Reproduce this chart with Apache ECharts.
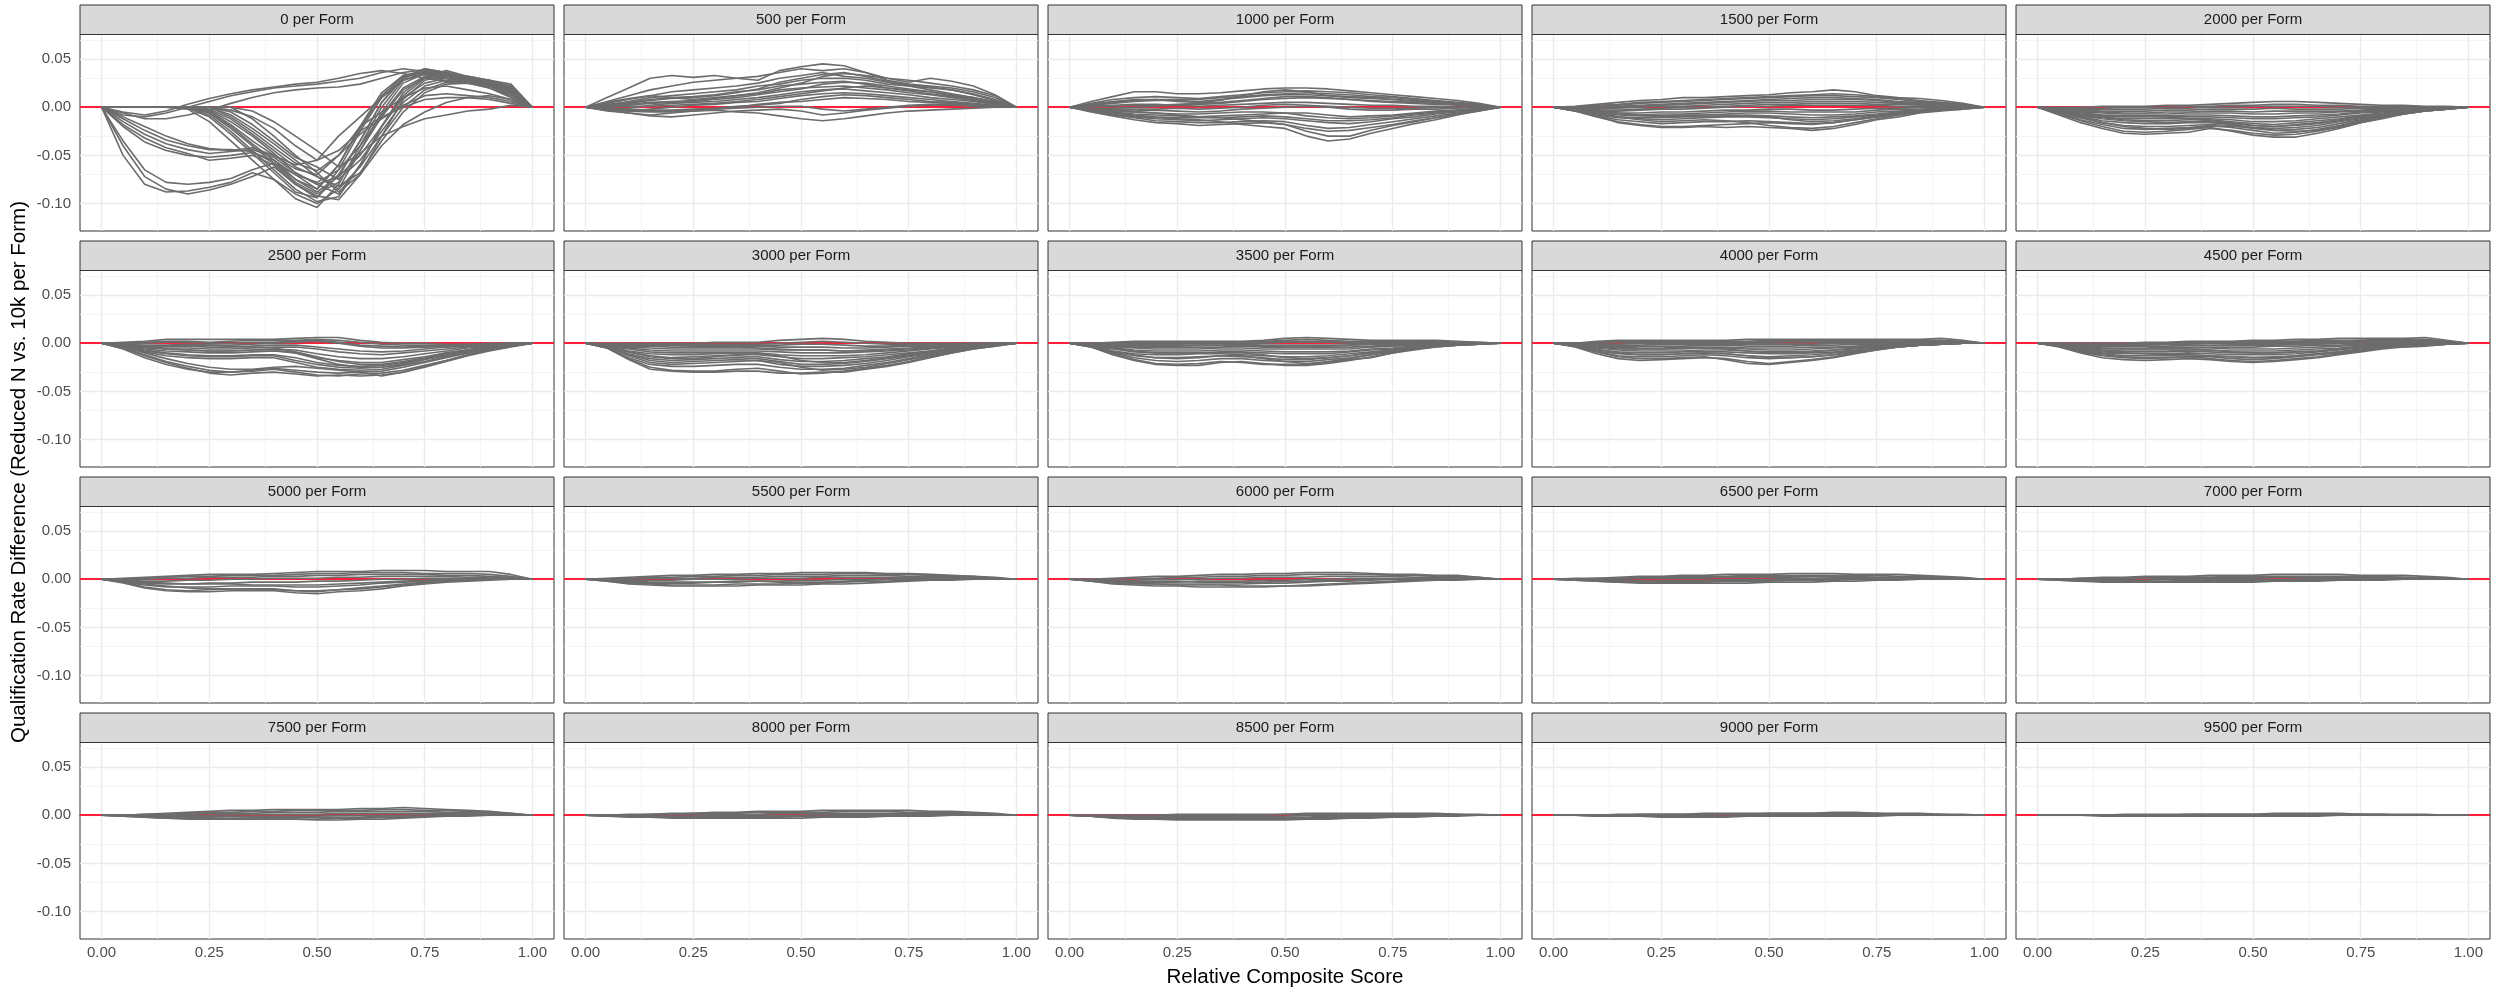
<!DOCTYPE html>
<html>
<head>
<meta charset="utf-8">
<title>Qualification Rate Difference by Sample Size per Form</title>
<script src="https://cdn.jsdelivr.net/npm/echarts@6/dist/echarts.min.js"></script>
<style>
  html, body { margin: 0; padding: 0; background: #ffffff; }
  #chart { width: 2498px; height: 988px; }
</style>
</head>
<body>
<div id="chart"></div>
<script>
// Relative composite score positions shared by every replicate curve
const scoreGrid = [0, 0.05, 0.1, 0.15, 0.2, 0.25, 0.3, 0.35, 0.4, 0.45, 0.5, 0.55, 0.6, 0.65, 0.7, 0.75, 0.8, 0.85, 0.9, 0.95, 1];

// Reduced sample size per form, one facet each
const formSizes = [0, 500, 1000, 1500, 2000, 2500, 3000, 3500, 4000, 4500,
                   5000, 5500, 6000, 6500, 7000, 7500, 8000, 8500, 9000, 9500];

const xTickValues = [0, 0.25, 0.5, 0.75, 1];
const xMinorValues = [0.125, 0.375, 0.625, 0.875];
const yTickValues = [-0.10, -0.05, 0, 0.05];
const yMinorValues = [-0.125, -0.075, -0.025, 0.025, 0.075];

// Qualification rate difference (reduced N vs. 10k per form), one row per replicate
const diff0 = [
  [0,-.050,-.080,-.088,-.087,-.083,-.078,-.068,-.075,-.090,-.100,-.085,-.045,-.005,.025,.035,.030,.028,.024,.015,0],
  [0,-.040,-.072,-.085,-.090,-.086,-.080,-.072,-.062,-.080,-.092,-.096,-.070,-.030,.008,.028,.033,.030,.026,.020,0],
  [0,-.035,-.065,-.078,-.080,-.078,-.074,-.065,-.058,-.070,-.085,-.060,-.020,.015,.033,.038,.034,.029,.022,.012,0],
  [0,-.020,-.036,-.045,-.050,-.052,-.050,-.047,-.055,-.075,-.088,-.072,-.035,.005,.030,.040,.036,.030,.027,.018,0],
  [0,-.015,-.028,-.038,-.044,-.048,-.046,-.044,-.052,-.068,-.080,-.090,-.060,-.020,.015,.032,.038,.032,.028,.022,0],
  [0,-.018,-.032,-.042,-.048,-.055,-.053,-.050,-.060,-.080,-.094,-.065,-.025,.010,.028,.034,.030,.026,.020,.012,0],
  [0,-.010,-.020,-.030,-.038,-.043,-.045,-.042,-.050,-.064,-.070,-.050,-.020,-.005,.010,.020,.022,.018,.014,.008,0],
  [0,-.012,-.024,-.034,-.040,-.044,-.044,-.046,-.058,-.078,-.090,-.078,-.045,-.010,.018,.030,.030,.026,.022,.016,0],
  [0,-.008,-.010,-.006,.000,.006,.012,.016,.020,.022,.024,.027,.030,.036,.040,.037,.033,.030,.028,.020,0],
  [0,-.005,-.008,-.004,.003,.009,.014,.018,.021,.024,.026,.030,.035,.038,.035,.030,.027,.025,.022,.014,0],
  [0,-.006,-.012,-.012,-.008,-.003,.004,.010,.015,.018,.020,.021,.024,.030,.036,.039,.035,.028,.024,.016,0],
  [0,0,0,0,-.002,-.015,-.035,-.055,-.075,-.095,-.104,-.080,-.040,.000,.028,.036,.033,.028,.022,.014,0],
  [0,0,0,0,0,-.006,-.022,-.040,-.058,-.075,-.085,-.060,-.022,.012,.032,.036,.030,.025,.020,.010,0],
  [0,0,0,0,0,0,-.010,-.025,-.042,-.058,-.066,-.050,-.028,-.012,.002,.012,.014,.012,.010,.006,0],
  [0,0,0,0,0,0,0,-.012,-.030,-.050,-.068,-.088,-.070,-.040,-.018,-.005,.005,.010,.012,.008,0],
  [0,0,0,0,0,-.004,-.018,-.035,-.050,-.060,-.055,-.030,-.010,.010,.030,.038,.035,.032,.028,.024,0],
  [0,0,0,0,0,0,0,-.004,-.015,-.030,-.045,-.062,-.048,-.030,-.020,-.012,-.008,-.004,-.002,.002,0],
  [0,0,0,0,0,-.008,-.025,-.045,-.065,-.085,-.098,-.093,-.060,-.020,.010,.025,.030,.028,.026,.022,0],
  [0,0,0,0,0,-.003,-.015,-.030,-.048,-.068,-.080,-.072,-.050,-.020,.012,.030,.034,.030,.025,.018,0],
  [0,0,0,0,-.001,-.010,-.028,-.048,-.068,-.088,-.094,-.070,-.035,.005,.030,.040,.036,.031,.027,.020,0],
  [0,0,0,0,0,0,-.005,-.018,-.035,-.052,-.062,-.075,-.055,-.025,.005,.022,.028,.026,.022,.016,0],
  [0,0,0,0,0,-.002,-.012,-.028,-.045,-.062,-.072,-.082,-.068,-.035,-.005,.015,.024,.025,.022,.015,0],
  [0,0,0,0,0,0,-.003,-.010,-.022,-.040,-.055,-.045,-.025,-.010,.000,.008,.010,.010,.008,.004,0],
  [0,0,0,0,0,-.005,-.020,-.038,-.055,-.070,-.078,-.065,-.040,-.008,.020,.032,.032,.028,.024,.018,0],
  [0,0,0,0,0,0,-.008,-.022,-.038,-.055,-.072,-.085,-.062,-.030,.000,.018,.026,.026,.024,.018,0]
];
const diff500 = [
  [0,.010,.020,.030,.033,.031,.033,.030,.028,.038,.042,.045,.043,.036,.030,.026,.030,.027,.022,.013,0],
  [0,.006,.012,.018,.022,.026,.028,.030,.032,.036,.040,.038,.040,.036,.028,.024,.022,.020,.016,.010,0],
  [0,.004,.008,.012,.016,.018,.020,.022,.025,.030,.033,.036,.032,.030,.026,.022,.020,.018,.014,.008,0],
  [0,.002,.006,.010,.012,.014,.016,.018,.022,.024,.028,.030,.030,.028,.024,.022,.018,.014,.010,.006,0],
  [0,.003,.005,.008,.010,.011,.013,.016,.018,.022,.024,.026,.027,.024,.020,.018,.016,.012,.009,.005,0],
  [0,.001,.003,.005,.006,.007,.009,.012,.014,.018,.020,.021,.022,.020,.018,.015,.013,.010,.007,.004,0],
  [0,-.002,-.001,.002,.004,.005,.006,.008,.010,.013,.016,.018,.019,.017,.015,.013,.010,.008,.006,.003,0],
  [0,-.003,-.004,-.002,.000,.002,.003,.005,.006,.009,.012,.014,.015,.014,.012,.010,.008,.006,.004,.002,0],
  [0,-.004,-.006,-.008,-.006,-.004,-.002,.000,.003,.005,.006,.008,.010,.009,.008,.006,.005,.004,.002,.001,0],
  [0,-.003,-.006,-.009,-.010,-.008,-.006,-.004,-.003,-.002,-.004,-.008,-.006,-.003,-.001,.001,.002,.002,.001,.000,0],
  [0,-.002,-.004,-.005,-.005,-.004,-.003,-.005,-.006,-.009,-.012,-.014,-.012,-.009,-.006,-.004,-.003,-.002,-.001,.000,0],
  [0,.005,.009,.012,.010,.008,.010,.012,.015,.020,.025,.032,.035,.033,.030,.028,.025,.022,.018,.012,0],
  [0,.002,.004,.007,.009,.010,.012,.015,.019,.026,.030,.034,.036,.032,.027,.023,.021,.018,.013,.007,0],
  [0,.001,.002,.004,.005,.006,.008,.010,.013,.016,.019,.024,.026,.025,.022,.019,.016,.013,.010,.005,0],
  [0,.000,.001,.001,.002,.003,.004,.006,.008,.011,.014,.017,.020,.022,.020,.017,.014,.011,.008,.004,0],
  [0,-.001,-.002,-.003,-.003,-.002,-.001,.001,.002,.004,.008,.011,.013,.012,.010,.008,.006,.005,.003,.001,0],
  [0,-.002,-.003,-.004,-.004,-.003,-.002,-.001,.000,.001,.001,-.002,-.004,-.002,.000,.002,.003,.003,.002,.001,0]
];
const diff1000 = [
  [0,.006,.011,.016,.016,.014,.014,.015,.017,.019,.020,.020,.019,.017,.015,.013,.011,.009,.007,.004,0],
  [0,.004,.008,.010,.011,.010,.009,.011,.013,.015,.016,.017,.016,.015,.013,.011,.009,.007,.005,.003,0],
  [0,.002,.004,.006,.007,.007,.006,.008,.010,.012,.013,.013,.012,.011,.010,.008,.006,.005,.003,.002,0],
  [0,.001,.002,.003,.003,.002,.003,.004,.006,.008,.009,.010,.009,.008,.006,.005,.004,.003,.002,.001,0],
  [0,-.001,-.001,.000,.001,.002,.001,.002,.003,.004,.005,.005,.004,.003,.002,.002,.001,.001,.000,.000,0],
  [0,-.002,-.003,-.004,-.003,-.004,-.005,-.004,-.002,-.001,.000,.001,.000,-.002,-.003,-.003,-.002,-.002,-.001,.000,0],
  [0,-.003,-.005,-.007,-.008,-.009,-.010,-.009,-.008,-.007,-.006,-.006,-.008,-.010,-.009,-.008,-.006,-.004,-.003,-.001,0],
  [0,-.004,-.007,-.010,-.012,-.013,-.014,-.013,-.012,-.011,-.012,-.014,-.016,-.017,-.015,-.012,-.010,-.007,-.005,-.002,0],
  [0,-.005,-.009,-.013,-.016,-.017,-.019,-.018,-.017,-.016,-.018,-.022,-.025,-.024,-.021,-.018,-.014,-.011,-.007,-.004,0],
  [0,-.003,-.006,-.009,-.011,-.012,-.013,-.015,-.018,-.020,-.022,-.030,-.035,-.033,-.027,-.022,-.017,-.013,-.008,-.004,0],
  [0,-.002,-.004,-.005,-.006,-.008,-.010,-.011,-.013,-.015,-.018,-.025,-.030,-.030,-.024,-.019,-.015,-.011,-.007,-.003,0],
  [0,.003,.006,.008,.008,.006,.005,.007,.012,.016,.018,.016,.012,.010,.009,.008,.007,.005,.004,.002,0],
  [0,.003,.005,.007,.008,.008,.008,.010,.011,.013,.014,.015,.014,.013,.011,.010,.008,.006,.004,.002,0],
  [0,.001,.001,.002,.002,.003,.004,.005,.007,.009,.011,.011,.010,.008,.007,.006,.005,.004,.003,.001,0],
  [0,-.001,-.002,-.002,-.002,-.001,-.002,-.001,.000,.002,.003,.002,.001,.000,-.001,-.001,-.001,.000,.000,.000,0],
  [0,-.002,-.004,-.005,-.006,-.007,-.007,-.006,-.005,-.005,-.006,-.009,-.011,-.012,-.011,-.009,-.007,-.005,-.003,-.001,0],
  [0,-.003,-.006,-.008,-.010,-.011,-.011,-.011,-.010,-.009,-.010,-.012,-.014,-.014,-.013,-.011,-.008,-.006,-.004,-.002,0],
  [0,-.004,-.008,-.011,-.014,-.015,-.016,-.016,-.015,-.014,-.015,-.019,-.022,-.021,-.018,-.015,-.012,-.009,-.006,-.003,0]
];
const diff1500 = [
  [0,.001,.003,.005,.007,.008,.010,.010,.011,.012,.013,.015,.016,.018,.016,.012,.010,.009,.007,.004,0],
  [0,.000,.002,.003,.005,.006,.007,.008,.009,.010,.011,.012,.013,.014,.013,.011,.009,.007,.005,.003,0],
  [0,-.001,.000,.001,.002,.003,.004,.005,.006,.007,.008,.009,.010,.010,.009,.008,.006,.005,.004,.002,0],
  [0,-.002,-.002,-.001,.000,.001,.001,.002,.003,.004,.005,.005,.006,.006,.006,.005,.004,.003,.002,.001,0],
  [0,-.002,-.004,-.004,-.003,-.002,-.002,-.001,.000,.001,.001,.002,.002,.002,.002,.002,.001,.001,.001,.000,0],
  [0,-.003,-.005,-.006,-.006,-.005,-.005,-.004,-.003,-.003,-.002,-.002,-.003,-.003,-.002,-.001,-.001,.000,.000,.000,0],
  [0,-.003,-.006,-.008,-.009,-.009,-.008,-.008,-.007,-.006,-.006,-.007,-.008,-.008,-.007,-.005,-.004,-.003,-.002,-.001,0],
  [0,-.004,-.008,-.011,-.012,-.013,-.012,-.011,-.010,-.010,-.011,-.012,-.013,-.012,-.010,-.008,-.006,-.004,-.003,-.001,0],
  [0,-.004,-.010,-.015,-.018,-.020,-.020,-.019,-.018,-.017,-.016,-.017,-.018,-.016,-.013,-.010,-.008,-.005,-.003,-.002,0],
  [0,-.003,-.009,-.016,-.019,-.021,-.021,-.020,-.021,-.020,-.021,-.022,-.024,-.022,-.018,-.013,-.010,-.006,-.004,-.002,0],
  [0,-.002,-.006,-.010,-.013,-.015,-.014,-.013,-.014,-.016,-.019,-.021,-.022,-.020,-.016,-.012,-.008,-.005,-.003,-.001,0],
  [0,-.001,-.003,-.006,-.008,-.010,-.009,-.008,-.008,-.009,-.010,-.013,-.015,-.014,-.012,-.009,-.006,-.004,-.002,-.001,0],
  [0,.000,.001,.002,.004,.005,.006,.007,.008,.009,.010,.011,.012,.012,.011,.010,.008,.006,.004,.002,0],
  [0,-.001,-.001,.000,.001,.002,.003,.004,.005,.006,.007,.007,.008,.008,.008,.007,.005,.004,.003,.001,0],
  [0,-.002,-.003,-.003,-.002,-.001,.000,.000,.001,.002,.003,.003,.004,.004,.004,.003,.003,.002,.001,.001,0],
  [0,-.003,-.005,-.007,-.008,-.007,-.007,-.006,-.005,-.004,-.004,-.005,-.005,-.005,-.005,-.003,-.002,-.002,-.001,.000,0],
  [0,-.004,-.007,-.010,-.011,-.011,-.010,-.010,-.009,-.008,-.009,-.010,-.011,-.010,-.009,-.007,-.005,-.004,-.002,-.001,0],
  [0,-.004,-.009,-.013,-.015,-.017,-.016,-.015,-.015,-.014,-.015,-.016,-.017,-.016,-.013,-.010,-.007,-.005,-.003,-.001,0]
];
const diff2000 = [
  [0,.000,.000,.001,.001,.001,.002,.002,.003,.004,.005,.006,.006,.005,.004,.003,.002,.002,.001,.001,0],
  [0,-.001,-.001,-.001,.000,.000,.000,.001,.001,.002,.002,.003,.003,.002,.002,.001,.001,.001,.000,.000,0],
  [0,-.002,-.003,-.004,-.004,-.004,-.003,-.003,-.002,-.002,-.002,-.001,-.002,-.002,-.002,-.001,-.001,-.001,.000,.000,0],
  [0,-.003,-.005,-.006,-.007,-.007,-.007,-.006,-.006,-.006,-.007,-.007,-.006,-.006,-.005,-.004,-.003,-.002,-.001,.000,0],
  [0,-.004,-.007,-.009,-.010,-.010,-.010,-.010,-.010,-.011,-.012,-.012,-.011,-.010,-.008,-.006,-.005,-.003,-.002,-.001,0],
  [0,-.004,-.008,-.011,-.013,-.014,-.014,-.013,-.013,-.015,-.017,-.018,-.016,-.014,-.012,-.009,-.007,-.005,-.003,-.001,0],
  [0,-.005,-.010,-.014,-.016,-.017,-.017,-.016,-.016,-.018,-.021,-.022,-.021,-.019,-.015,-.012,-.009,-.006,-.003,-.002,0],
  [0,-.006,-.013,-.018,-.022,-.023,-.022,-.021,-.019,-.021,-.024,-.027,-.026,-.023,-.019,-.014,-.010,-.006,-.004,-.002,0],
  [0,-.008,-.016,-.022,-.027,-.028,-.027,-.026,-.022,-.024,-.027,-.029,-.028,-.025,-.020,-.015,-.011,-.007,-.004,-.002,0],
  [0,-.007,-.014,-.020,-.025,-.026,-.025,-.023,-.021,-.025,-.029,-.031,-.031,-.027,-.022,-.016,-.012,-.007,-.004,-.002,0],
  [0,-.005,-.011,-.016,-.020,-.022,-.023,-.022,-.020,-.020,-.021,-.024,-.025,-.024,-.021,-.016,-.011,-.007,-.004,-.002,0],
  [0,-.003,-.006,-.008,-.009,-.009,-.010,-.012,-.014,-.016,-.019,-.020,-.019,-.017,-.014,-.011,-.008,-.005,-.003,-.001,0],
  [0,-.001,-.002,-.002,-.002,-.002,-.001,-.001,.000,.000,.001,.001,.001,.001,.000,.000,.000,.000,.000,.000,0],
  [0,-.002,-.004,-.005,-.006,-.006,-.005,-.005,-.004,-.004,-.005,-.004,-.004,-.004,-.004,-.003,-.002,-.001,-.001,.000,0],
  [0,-.003,-.006,-.008,-.009,-.009,-.009,-.008,-.008,-.009,-.010,-.010,-.009,-.008,-.007,-.005,-.004,-.003,-.001,.000,0],
  [0,-.004,-.008,-.010,-.012,-.012,-.012,-.012,-.012,-.013,-.015,-.015,-.014,-.012,-.010,-.008,-.006,-.004,-.002,-.001,0],
  [0,-.005,-.009,-.012,-.014,-.015,-.016,-.015,-.015,-.017,-.019,-.020,-.018,-.016,-.013,-.010,-.008,-.005,-.003,-.001,0],
  [0,-.006,-.011,-.016,-.019,-.020,-.020,-.019,-.018,-.019,-.022,-.024,-.023,-.021,-.017,-.013,-.009,-.006,-.003,-.001,0]
];
const diff2500 = [
  [0,.001,.002,.004,.004,.004,.004,.004,.004,.005,.006,.006,.003,.001,.000,.000,-.001,-.001,.000,.000,0],
  [0,.000,.001,.002,.002,.001,.002,.003,.003,.003,.004,.003,.001,-.001,-.002,-.002,-.002,-.001,-.001,.000,0],
  [0,-.001,-.002,-.002,-.001,-.002,-.002,-.001,.000,.001,.002,.000,-.003,-.005,-.005,-.004,-.003,-.002,-.001,.000,0],
  [0,-.002,-.004,-.005,-.005,-.006,-.006,-.005,-.004,-.004,-.006,-.009,-.011,-.012,-.010,-.008,-.006,-.004,-.002,-.001,0],
  [0,-.003,-.006,-.008,-.009,-.010,-.010,-.009,-.008,-.010,-.015,-.018,-.020,-.020,-.017,-.014,-.010,-.007,-.004,-.002,0],
  [0,-.004,-.009,-.013,-.015,-.016,-.016,-.015,-.015,-.020,-.025,-.027,-.028,-.027,-.023,-.019,-.014,-.010,-.006,-.003,0],
  [0,-.006,-.015,-.022,-.027,-.030,-.030,-.028,-.026,-.028,-.030,-.031,-.030,-.029,-.025,-.020,-.015,-.010,-.006,-.003,0],
  [0,-.005,-.013,-.020,-.026,-.031,-.033,-.031,-.030,-.032,-.034,-.033,-.034,-.033,-.030,-.025,-.019,-.013,-.008,-.004,0],
  [0,-.005,-.012,-.019,-.024,-.028,-.030,-.029,-.027,-.030,-.033,-.034,-.032,-.031,-.028,-.023,-.018,-.012,-.007,-.003,0],
  [0,-.004,-.010,-.016,-.021,-.025,-.027,-.027,-.025,-.024,-.026,-.028,-.030,-.034,-.030,-.024,-.018,-.012,-.007,-.003,0],
  [0,-.002,-.004,-.006,-.007,-.008,-.008,-.007,-.007,-.010,-.016,-.022,-.025,-.025,-.021,-.016,-.011,-.007,-.004,-.002,0],
  [0,-.002,-.003,-.003,-.002,-.002,-.003,-.004,-.005,-.009,-.014,-.019,-.022,-.022,-.019,-.015,-.010,-.007,-.004,-.002,0],
  [0,.000,.000,.001,.001,.000,.000,.001,.001,.002,.003,.001,-.002,-.003,-.004,-.003,-.002,-.002,-.001,.000,0],
  [0,-.001,-.003,-.003,-.003,-.004,-.004,-.003,-.002,-.002,-.004,-.006,-.008,-.009,-.008,-.006,-.004,-.003,-.002,-.001,0],
  [0,-.002,-.005,-.006,-.007,-.008,-.008,-.007,-.006,-.007,-.011,-.014,-.016,-.016,-.014,-.011,-.008,-.005,-.003,-.001,0],
  [0,-.003,-.007,-.010,-.012,-.013,-.013,-.012,-.012,-.015,-.020,-.023,-.024,-.023,-.020,-.016,-.012,-.008,-.005,-.002,0],
  [0,-.004,-.008,-.011,-.013,-.014,-.014,-.013,-.013,-.018,-.022,-.025,-.026,-.025,-.022,-.017,-.013,-.009,-.005,-.002,0]
];
const diff3000 = [
  [0,.000,.000,.000,.000,.000,.001,.001,.001,.003,.004,.005,.004,.002,.001,.000,.000,.000,.000,.000,0],
  [0,-.001,-.001,-.001,-.001,-.001,-.001,-.001,-.001,.000,.001,.002,.001,.000,-.001,-.001,-.001,-.001,.000,.000,0],
  [0,-.002,-.003,-.003,-.004,-.004,-.004,-.004,-.003,-.004,-.004,-.004,-.005,-.005,-.004,-.003,-.003,-.002,-.001,.000,0],
  [0,-.002,-.005,-.007,-.008,-.008,-.008,-.008,-.008,-.009,-.010,-.010,-.010,-.009,-.008,-.007,-.005,-.004,-.002,-.001,0],
  [0,-.003,-.008,-.011,-.012,-.012,-.011,-.011,-.012,-.014,-.016,-.016,-.015,-.014,-.012,-.010,-.008,-.005,-.003,-.001,0],
  [0,-.004,-.011,-.016,-.018,-.017,-.016,-.015,-.016,-.019,-.022,-.022,-.021,-.019,-.016,-.013,-.010,-.007,-.004,-.002,0],
  [0,-.005,-.015,-.022,-.024,-.024,-.023,-.022,-.022,-.025,-.027,-.027,-.026,-.023,-.020,-.016,-.012,-.008,-.005,-.002,0],
  [0,-.005,-.016,-.025,-.028,-.029,-.029,-.027,-.026,-.029,-.032,-.031,-.029,-.026,-.023,-.019,-.014,-.010,-.006,-.003,0],
  [0,-.005,-.017,-.027,-.029,-.030,-.030,-.029,-.029,-.031,-.031,-.030,-.030,-.027,-.024,-.020,-.015,-.010,-.006,-.003,0],
  [0,-.004,-.013,-.020,-.022,-.021,-.020,-.019,-.018,-.020,-.025,-.028,-.027,-.025,-.021,-.017,-.013,-.009,-.005,-.002,0],
  [0,-.003,-.009,-.014,-.016,-.016,-.014,-.012,-.011,-.013,-.018,-.020,-.020,-.018,-.015,-.012,-.009,-.006,-.003,-.001,0],
  [0,-.001,-.002,-.002,-.002,-.003,-.003,-.004,-.005,-.006,-.007,-.007,-.008,-.008,-.007,-.006,-.005,-.003,-.002,-.001,0],
  [0,-.001,-.002,-.002,-.002,-.002,-.002,-.002,-.002,-.002,-.001,-.001,-.002,-.003,-.003,-.002,-.002,-.001,-.001,.000,0],
  [0,-.002,-.004,-.005,-.006,-.006,-.006,-.006,-.006,-.007,-.007,-.007,-.008,-.007,-.006,-.005,-.004,-.003,-.002,-.001,0],
  [0,-.003,-.006,-.009,-.010,-.010,-.010,-.010,-.010,-.012,-.013,-.013,-.013,-.012,-.010,-.008,-.006,-.004,-.002,-.001,0],
  [0,-.003,-.009,-.013,-.015,-.014,-.013,-.013,-.014,-.017,-.019,-.019,-.018,-.016,-.014,-.011,-.008,-.006,-.003,-.001,0],
  [0,-.004,-.012,-.018,-.020,-.019,-.018,-.017,-.018,-.022,-.024,-.024,-.023,-.021,-.018,-.014,-.011,-.007,-.004,-.002,0]
];
const diff3500 = [
  [0,.000,.001,.002,.002,.002,.002,.002,.002,.003,.005,.006,.005,.004,.003,.003,.003,.003,.002,.001,0],
  [0,.000,.000,.001,.001,.001,.001,.001,.001,.002,.003,.004,.003,.002,.002,.002,.002,.002,.001,.001,0],
  [0,-.001,-.001,-.001,-.001,-.001,.000,.000,.000,.000,.001,.001,.001,.000,.000,.001,.001,.000,.000,.000,0],
  [0,-.002,-.003,-.004,-.004,-.004,-.004,-.004,-.003,-.004,-.004,-.004,-.004,-.004,-.003,-.002,-.001,-.001,.000,.000,0],
  [0,-.002,-.005,-.007,-.008,-.008,-.008,-.007,-.007,-.008,-.009,-.009,-.009,-.008,-.006,-.005,-.003,-.002,-.001,.000,0],
  [0,-.003,-.008,-.011,-.012,-.012,-.011,-.011,-.012,-.013,-.014,-.014,-.013,-.011,-.009,-.007,-.005,-.003,-.001,.000,0],
  [0,-.004,-.010,-.015,-.018,-.019,-.018,-.016,-.016,-.018,-.019,-.019,-.017,-.015,-.012,-.008,-.006,-.003,-.002,-.001,0],
  [0,-.004,-.012,-.018,-.022,-.023,-.023,-.020,-.019,-.021,-.023,-.023,-.021,-.018,-.014,-.010,-.007,-.004,-.002,-.001,0],
  [0,-.004,-.011,-.017,-.021,-.022,-.021,-.019,-.020,-.022,-.022,-.022,-.020,-.017,-.015,-.010,-.006,-.004,-.002,-.001,0],
  [0,-.003,-.008,-.012,-.015,-.016,-.015,-.013,-.013,-.016,-.019,-.021,-.019,-.016,-.012,-.009,-.006,-.003,-.002,-.001,0],
  [0,-.002,-.005,-.008,-.010,-.010,-.010,-.010,-.010,-.012,-.015,-.016,-.015,-.013,-.010,-.007,-.004,-.002,-.001,.000,0],
  [0,-.001,-.002,-.003,-.003,-.003,-.002,-.002,-.002,-.003,-.004,-.004,-.003,-.002,-.001,.000,.000,.000,.000,.000,0],
  [0,.000,.000,.000,.000,.000,.001,.001,.001,.001,.002,.002,.002,.001,.001,.002,.002,.001,.001,.000,0],
  [0,-.001,-.002,-.002,-.002,-.002,-.002,-.002,-.001,-.002,-.002,-.002,-.002,-.002,-.001,-.001,.000,.000,.000,.000,0],
  [0,-.002,-.004,-.005,-.006,-.006,-.006,-.005,-.005,-.006,-.006,-.006,-.006,-.006,-.004,-.003,-.002,-.001,.000,.000,0],
  [0,-.003,-.006,-.009,-.010,-.010,-.010,-.009,-.009,-.010,-.011,-.011,-.011,-.009,-.007,-.006,-.004,-.002,-.001,.000,0],
  [0,-.003,-.009,-.013,-.015,-.015,-.014,-.013,-.014,-.015,-.017,-.017,-.015,-.013,-.010,-.008,-.005,-.003,-.001,.000,0]
];
const diff4000 = [
  [0,.000,.002,.003,.003,.003,.003,.003,.003,.004,.004,.004,.004,.004,.004,.004,.004,.004,.005,.003,0],
  [0,.000,.001,.002,.002,.001,.002,.002,.002,.002,.003,.003,.003,.003,.002,.002,.002,.003,.003,.002,0],
  [0,-.001,-.001,-.001,.000,.000,.000,.000,.000,.000,.000,.000,.001,.001,.001,.001,.001,.001,.001,.001,0],
  [0,-.001,-.002,-.003,-.003,-.003,-.003,-.002,-.002,-.003,-.003,-.003,-.002,-.002,-.001,-.001,.000,.000,.000,.000,0],
  [0,-.002,-.004,-.006,-.006,-.006,-.006,-.005,-.005,-.006,-.007,-.007,-.006,-.005,-.004,-.003,-.002,-.001,-.001,.000,0],
  [0,-.003,-.007,-.009,-.010,-.010,-.009,-.009,-.009,-.010,-.011,-.011,-.010,-.009,-.007,-.005,-.003,-.002,-.001,.000,0],
  [0,-.003,-.009,-.013,-.014,-.014,-.013,-.012,-.013,-.015,-.016,-.015,-.014,-.012,-.009,-.006,-.004,-.002,-.001,.000,0],
  [0,-.004,-.011,-.016,-.018,-.017,-.016,-.015,-.016,-.019,-.021,-.019,-.017,-.014,-.010,-.007,-.004,-.002,-.001,.000,0],
  [0,-.003,-.009,-.014,-.016,-.016,-.015,-.014,-.017,-.021,-.022,-.020,-.018,-.015,-.011,-.007,-.004,-.002,-.001,.000,0],
  [0,-.002,-.006,-.010,-.012,-.012,-.011,-.010,-.011,-.013,-.015,-.015,-.014,-.012,-.009,-.006,-.004,-.002,-.001,.000,0],
  [0,-.001,-.003,-.005,-.006,-.006,-.005,-.005,-.006,-.008,-.010,-.010,-.009,-.007,-.005,-.003,-.002,-.001,.000,.000,0],
  [0,.000,.000,.001,.001,.002,.002,.001,.001,.001,.002,.002,.002,.002,.003,.003,.002,.002,.002,.001,0],
  [0,.000,.001,.001,.001,.001,.001,.001,.001,.001,.001,.002,.002,.002,.002,.002,.002,.002,.002,.001,0],
  [0,-.001,-.001,-.002,-.002,-.001,-.001,-.001,-.001,-.001,-.001,-.001,-.001,.000,.000,.000,.000,.000,.000,.000,0],
  [0,-.002,-.003,-.004,-.005,-.005,-.004,-.004,-.004,-.005,-.005,-.005,-.004,-.004,-.003,-.002,-.001,-.001,.000,.000,0],
  [0,-.002,-.005,-.007,-.008,-.008,-.008,-.007,-.007,-.008,-.009,-.009,-.008,-.007,-.006,-.004,-.003,-.002,-.001,.000,0],
  [0,-.003,-.008,-.011,-.012,-.012,-.011,-.011,-.011,-.013,-.014,-.013,-.012,-.010,-.008,-.005,-.003,-.002,-.001,.000,0]
];
const diff4500 = [
  [0,.000,.000,.000,.000,.001,.001,.002,.002,.002,.003,.003,.004,.004,.005,.005,.005,.005,.006,.003,0],
  [0,.000,.000,.000,.000,.000,.000,.001,.001,.001,.002,.002,.002,.003,.003,.003,.004,.004,.004,.002,0],
  [0,-.001,-.002,-.002,-.002,-.002,-.001,-.001,.000,.000,.000,.000,.001,.001,.001,.002,.002,.002,.002,.001,0],
  [0,-.002,-.004,-.005,-.005,-.005,-.004,-.004,-.004,-.004,-.004,-.003,-.003,-.002,-.002,-.001,.000,.000,.000,.000,0],
  [0,-.002,-.005,-.007,-.008,-.008,-.008,-.007,-.007,-.008,-.008,-.008,-.007,-.006,-.005,-.003,-.002,-.001,-.001,.000,0],
  [0,-.003,-.007,-.010,-.011,-.011,-.011,-.010,-.011,-.012,-.012,-.012,-.011,-.009,-.007,-.005,-.004,-.002,-.001,.000,0],
  [0,-.003,-.009,-.013,-.015,-.016,-.015,-.014,-.014,-.016,-.017,-.016,-.014,-.012,-.010,-.007,-.005,-.003,-.002,-.001,0],
  [0,-.004,-.010,-.015,-.017,-.018,-.017,-.016,-.017,-.019,-.020,-.019,-.017,-.015,-.012,-.009,-.006,-.004,-.003,-.001,0],
  [0,-.003,-.008,-.012,-.014,-.015,-.015,-.014,-.016,-.018,-.019,-.018,-.016,-.014,-.011,-.008,-.005,-.003,-.002,-.001,0],
  [0,-.002,-.006,-.009,-.010,-.011,-.012,-.012,-.013,-.014,-.015,-.015,-.013,-.011,-.009,-.006,-.004,-.003,-.002,-.001,0],
  [0,-.001,-.003,-.005,-.006,-.006,-.006,-.006,-.007,-.009,-.010,-.010,-.009,-.008,-.006,-.004,-.003,-.002,-.001,.000,0],
  [0,-.001,-.001,-.002,-.002,-.001,-.001,.000,.000,-.001,-.001,-.001,.000,.000,.001,.001,.002,.003,.003,.002,0],
  [0,.000,-.001,-.001,-.001,-.001,.000,.000,.001,.001,.001,.001,.002,.002,.002,.003,.003,.003,.003,.002,0],
  [0,-.001,-.003,-.003,-.003,-.003,-.003,-.002,-.002,-.002,-.002,-.002,-.001,-.001,.000,.000,.001,.001,.001,.000,0],
  [0,-.002,-.004,-.006,-.006,-.006,-.006,-.005,-.005,-.006,-.006,-.006,-.005,-.004,-.003,-.002,-.001,-.001,.000,.000,0],
  [0,-.002,-.006,-.008,-.009,-.009,-.009,-.008,-.009,-.010,-.010,-.010,-.009,-.008,-.006,-.004,-.003,-.002,-.001,.000,0],
  [0,-.003,-.008,-.011,-.013,-.013,-.013,-.012,-.013,-.014,-.015,-.014,-.013,-.011,-.009,-.007,-.005,-.003,-.002,-.001,0]
];
const diff5000 = [
  [0,.001,.002,.003,.004,.005,.005,.005,.006,.007,.008,.008,.008,.009,.009,.009,.008,.008,.008,.005,0],
  [0,.000,.001,.002,.003,.003,.004,.004,.004,.005,.006,.006,.007,.007,.007,.006,.006,.006,.005,.003,0],
  [0,-.001,.000,.001,.001,.002,.002,.002,.003,.003,.004,.004,.005,.005,.005,.005,.004,.004,.003,.002,0],
  [0,-.001,-.002,-.002,-.001,-.001,.000,.000,.001,.001,.001,.002,.002,.003,.003,.003,.003,.002,.002,.001,0],
  [0,-.002,-.004,-.005,-.005,-.004,-.004,-.003,-.003,-.003,-.002,-.002,-.001,.000,.000,.001,.001,.001,.001,.000,0],
  [0,-.003,-.006,-.008,-.008,-.008,-.007,-.007,-.007,-.008,-.008,-.007,-.006,-.004,-.003,-.002,-.001,.000,.000,.000,0],
  [0,-.003,-.008,-.011,-.012,-.011,-.010,-.010,-.010,-.012,-.013,-.011,-.010,-.008,-.006,-.004,-.002,-.001,.000,.000,0],
  [0,-.004,-.009,-.012,-.013,-.013,-.012,-.012,-.012,-.014,-.015,-.013,-.012,-.010,-.007,-.005,-.003,-.002,-.001,.000,0],
  [0,-.002,-.005,-.007,-.009,-.010,-.010,-.010,-.011,-.012,-.012,-.011,-.009,-.007,-.005,-.003,-.002,-.001,.000,.000,0],
  [0,-.001,-.003,-.004,-.005,-.005,-.005,-.006,-.006,-.006,-.006,-.005,-.004,-.003,-.002,-.001,.000,.000,.000,.000,0]
];
const diff5500 = [
  [0,.001,.002,.003,.004,.004,.005,.005,.006,.006,.007,.007,.007,.007,.006,.006,.005,.004,.003,.002,0],
  [0,.000,.001,.002,.002,.003,.003,.004,.004,.005,.005,.005,.006,.006,.005,.005,.004,.003,.003,.001,0],
  [0,.000,.000,.001,.001,.001,.002,.002,.002,.003,.003,.003,.004,.004,.004,.003,.003,.002,.002,.001,0],
  [0,-.001,-.001,-.001,-.001,.000,.000,.000,.001,.001,.001,.002,.002,.002,.002,.002,.002,.001,.001,.001,0],
  [0,-.001,-.003,-.004,-.004,-.004,-.003,-.003,-.002,-.002,-.001,-.001,.000,.000,.000,.001,.001,.001,.000,.000,0],
  [0,-.002,-.004,-.005,-.006,-.006,-.006,-.005,-.005,-.005,-.004,-.004,-.003,-.002,-.002,-.001,-.001,.000,.000,.000,0],
  [0,-.002,-.005,-.006,-.007,-.007,-.007,-.007,-.006,-.006,-.006,-.005,-.005,-.004,-.003,-.002,-.001,-.001,.000,.000,0],
  [0,-.001,-.002,-.003,-.003,-.003,-.003,-.002,-.002,-.003,-.003,-.003,-.002,-.001,.000,.000,.000,.000,.000,.000,0]
];
const diff6000 = [
  [0,.000,.001,.002,.003,.003,.004,.005,.005,.006,.006,.007,.007,.007,.006,.005,.005,.004,.004,.002,0],
  [0,.000,.000,.001,.001,.002,.002,.003,.003,.004,.004,.005,.005,.005,.005,.004,.004,.003,.003,.002,0],
  [0,-.001,-.001,-.001,.000,.000,.000,.001,.001,.002,.002,.002,.003,.003,.003,.003,.002,.002,.002,.001,0],
  [0,-.001,-.002,-.003,-.003,-.003,-.002,-.002,-.002,-.001,-.001,.000,.000,.001,.001,.001,.001,.001,.001,.000,0],
  [0,-.002,-.004,-.005,-.005,-.005,-.005,-.005,-.005,-.004,-.004,-.003,-.002,-.002,-.001,.000,.000,.000,.000,.000,0],
  [0,-.002,-.005,-.006,-.007,-.007,-.008,-.008,-.008,-.008,-.007,-.006,-.005,-.004,-.003,-.002,-.001,-.001,.000,.000,0],
  [0,-.001,-.003,-.004,-.005,-.006,-.006,-.006,-.007,-.007,-.007,-.007,-.006,-.005,-.004,-.003,-.002,-.001,-.001,.000,0],
  [0,-.001,-.002,-.002,-.002,-.002,-.003,-.003,-.003,-.003,-.002,-.002,-.001,-.001,.000,.000,.001,.001,.001,.000,0]
];
const diff6500 = [
  [0,.001,.001,.002,.003,.003,.004,.004,.005,.005,.005,.006,.006,.006,.005,.005,.005,.004,.003,.002,0],
  [0,.000,.001,.001,.002,.002,.003,.003,.003,.004,.004,.004,.004,.004,.004,.004,.003,.003,.002,.001,0],
  [0,.000,.000,.000,.001,.001,.001,.001,.002,.002,.002,.002,.003,.003,.003,.002,.002,.002,.001,.001,0],
  [0,-.001,-.001,-.002,-.002,-.001,-.001,-.001,.000,.000,.000,.001,.001,.001,.001,.001,.001,.001,.001,.000,0],
  [0,-.001,-.002,-.003,-.003,-.003,-.003,-.003,-.002,-.002,-.002,-.001,-.001,-.001,.000,.000,.000,.000,.000,.000,0],
  [0,-.001,-.002,-.003,-.004,-.004,-.004,-.004,-.004,-.004,-.003,-.003,-.003,-.002,-.002,-.001,-.001,.000,.000,.000,0],
  [0,.000,-.001,-.001,-.001,-.002,-.002,-.002,-.001,-.001,-.001,.000,.000,.000,.000,.000,.000,.000,.000,.000,0],
  [0,.000,.000,.001,.001,.002,.002,.002,.002,.003,.003,.003,.003,.002,.002,.002,.002,.001,.001,.001,0]
];
const diff7000 = [
  [0,.000,.001,.002,.002,.003,.003,.003,.004,.004,.004,.005,.005,.005,.005,.004,.004,.004,.003,.002,0],
  [0,.000,.001,.001,.001,.002,.002,.002,.002,.003,.003,.003,.003,.003,.003,.003,.003,.002,.002,.001,0],
  [0,.000,.000,.000,.000,.001,.001,.001,.001,.001,.001,.002,.002,.002,.002,.002,.002,.001,.001,.001,0],
  [0,-.001,-.001,-.001,-.001,-.001,.000,.000,.000,.000,.000,.000,.000,.001,.001,.001,.001,.000,.000,.000,0],
  [0,-.001,-.002,-.002,-.003,-.003,-.003,-.002,-.002,-.002,-.002,-.001,-.001,-.001,.000,.000,.000,.000,.000,.000,0],
  [0,-.001,-.002,-.003,-.003,-.003,-.003,-.003,-.003,-.003,-.003,-.002,-.002,-.002,-.001,-.001,-.001,.000,.000,.000,0],
  [0,.000,-.001,-.001,-.002,-.002,-.002,-.001,-.001,-.001,-.001,-.001,.000,.000,.000,.000,.000,.000,.000,.000,0],
  [0,.000,.000,.001,.001,.001,.001,.002,.002,.002,.002,.002,.002,.002,.002,.002,.002,.002,.001,.001,0]
];
const diff7500 = [
  [0,.000,.001,.002,.003,.004,.005,.005,.006,.006,.006,.006,.007,.007,.008,.007,.006,.005,.004,.002,0],
  [0,.000,.001,.001,.002,.003,.003,.004,.004,.005,.005,.005,.005,.006,.006,.005,.005,.004,.003,.002,0],
  [0,.000,.000,.001,.001,.002,.002,.002,.003,.003,.003,.004,.004,.004,.004,.004,.003,.003,.002,.001,0],
  [0,.000,.000,.000,.000,.000,.001,.001,.001,.001,.001,.002,.002,.002,.002,.002,.002,.002,.001,.001,0],
  [0,-.001,-.001,-.002,-.002,-.002,-.001,-.001,-.001,-.001,-.001,.000,.000,.000,.000,.001,.001,.001,.000,.000,0],
  [0,-.001,-.002,-.003,-.003,-.003,-.003,-.003,-.003,-.004,-.004,-.003,-.003,-.002,-.002,-.001,-.001,.000,.000,.000,0],
  [0,-.001,-.002,-.003,-.004,-.004,-.004,-.004,-.004,-.004,-.005,-.005,-.004,-.004,-.003,-.002,-.001,-.001,.000,.000,0],
  [0,.000,.000,-.001,-.001,-.001,-.001,-.002,-.002,-.002,-.002,-.002,-.002,-.001,-.001,-.001,.000,.000,.000,.000,0]
];
const diff8000 = [
  [0,.000,.001,.001,.002,.002,.003,.003,.004,.004,.004,.005,.005,.005,.005,.005,.004,.004,.003,.002,0],
  [0,.000,.000,.001,.001,.002,.002,.002,.003,.003,.003,.003,.004,.004,.004,.003,.003,.003,.002,.001,0],
  [0,.000,.000,.000,.001,.001,.001,.001,.001,.002,.002,.002,.002,.002,.002,.002,.002,.002,.001,.001,0],
  [0,-.001,-.001,-.001,-.001,-.001,.000,.000,.000,.000,.000,.001,.001,.001,.001,.001,.001,.001,.000,.000,0],
  [0,-.001,-.001,-.002,-.002,-.002,-.002,-.002,-.002,-.002,-.001,-.001,-.001,-.001,.000,.000,.000,.000,.000,.000,0],
  [0,-.001,-.002,-.002,-.003,-.003,-.003,-.003,-.003,-.003,-.003,-.002,-.002,-.002,-.001,-.001,-.001,.000,.000,.000,0],
  [0,.000,-.001,-.001,-.001,-.001,-.001,-.001,-.001,-.001,-.001,-.001,.000,.000,.000,.000,.000,.000,.000,.000,0]
];
const diff8500 = [
  [0,.000,.000,.000,.000,.001,.001,.001,.001,.001,.001,.002,.002,.002,.002,.002,.002,.002,.001,.001,0],
  [0,.000,.000,.000,.000,.000,.000,.000,.000,.000,.001,.001,.001,.001,.001,.001,.001,.001,.001,.000,0],
  [0,-.001,-.001,-.001,-.001,-.001,-.001,-.001,-.001,-.001,-.001,.000,.000,.000,.000,.000,.000,.000,.000,.000,0],
  [0,-.001,-.002,-.002,-.002,-.002,-.002,-.002,-.002,-.002,-.002,-.002,-.001,-.001,-.001,-.001,.000,.000,.000,.000,0],
  [0,-.001,-.002,-.003,-.003,-.003,-.003,-.003,-.003,-.003,-.003,-.003,-.002,-.002,-.002,-.001,-.001,-.001,.000,.000,0],
  [0,-.001,-.002,-.003,-.004,-.004,-.004,-.004,-.004,-.004,-.004,-.004,-.003,-.003,-.002,-.002,-.001,-.001,.000,.000,0],
  [0,-.001,-.003,-.004,-.004,-.005,-.005,-.005,-.005,-.005,-.005,-.004,-.004,-.003,-.003,-.002,-.002,-.001,-.001,.000,0]
];
const diff9000 = [
  [0,.000,.000,.001,.001,.001,.001,.002,.002,.002,.002,.002,.002,.003,.003,.002,.002,.002,.001,.001,0],
  [0,.000,.000,.000,.001,.001,.001,.001,.001,.001,.002,.002,.002,.002,.002,.002,.001,.001,.001,.000,0],
  [0,.000,.000,.000,.000,.000,.000,.000,.001,.001,.001,.001,.001,.001,.001,.001,.001,.001,.000,.000,0],
  [0,.000,-.001,-.001,-.001,-.001,-.001,-.001,-.001,.000,.000,.000,.000,.000,.000,.000,.000,.000,.000,.000,0],
  [0,.000,-.001,-.001,-.001,-.002,-.002,-.002,-.002,-.001,-.001,-.001,-.001,-.001,-.001,-.001,.000,.000,.000,.000,0],
  [0,.000,.000,.000,-.001,-.001,-.001,-.001,-.001,-.001,-.001,-.001,-.001,.000,.000,.000,.000,.000,.000,.000,0]
];
const diff9500 = [
  [0,.000,.000,.000,.001,.001,.001,.001,.001,.001,.001,.002,.002,.002,.002,.001,.001,.001,.001,.000,0],
  [0,.000,.000,.000,.000,.000,.000,.001,.001,.001,.001,.001,.001,.001,.001,.001,.001,.000,.000,.000,0],
  [0,.000,.000,.000,.000,-.001,-.001,-.001,-.001,-.001,-.001,-.001,-.001,-.001,.000,.000,.000,.000,.000,.000,0],
  [0,.000,.000,-.001,-.001,-.001,-.001,-.001,-.001,.000,.000,.000,.000,.000,.000,.000,.000,.000,.000,.000,0],
  [0,.000,.000,.000,.000,.000,.000,.000,.000,.000,.000,.001,.001,.001,.001,.001,.000,.000,.000,.000,0]
];

const panelCurves = [diff0, diff500, diff1000, diff1500, diff2000, diff2500, diff3000, diff3500, diff4000, diff4500,
                     diff5000, diff5500, diff6000, diff6500, diff7000, diff7500, diff8000, diff8500, diff9000, diff9500];

// ---- layout (facet_wrap style, 5 columns x 4 rows) ----
const FONT = '"Liberation Sans", Arial, Helvetica, sans-serif';
const N_COLS = 5;
const PANEL_W = 474, PANEL_H = 196.5, STRIP_H = 29.5;
const COL_STEP = 484, ROW_STEP = 236;
const ORIGIN_X = 80, ORIGIN_Y = 5;
const X_RANGE = [-0.05, 1.05];
const Y_RANGE = [-0.1285, 0.0755];
const N_ROWS = Math.ceil(formSizes.length / N_COLS);

const grids = [], xAxes = [], yAxes = [], series = [], graphics = [];

const majorGrid = { color: '#EBEBEB', width: 1.4, type: 'solid' };
const minorGrid = { color: '#F3F3F3', width: 0.8, type: 'solid' };

formSizes.forEach((size, k) => {
  const row = Math.floor(k / N_COLS), col = k % N_COLS;
  const left = ORIGIN_X + col * COL_STEP;
  const stripTop = ORIGIN_Y + row * ROW_STEP;
  const top = stripTop + STRIP_H;
  const isBottom = row === N_ROWS - 1;
  const isLeft = col === 0;

  grids.push({
    left: left, top: top, width: PANEL_W, height: PANEL_H,
    show: true, backgroundColor: '#FFFFFF', borderColor: '#333333', borderWidth: 1,
    containLabel: false
  });

  xAxes.push({
    type: 'value', gridIndex: k, min: X_RANGE[0], max: X_RANGE[1],
    splitLine: { show: false }, minorSplitLine: { show: false },
    axisLine: { show: isBottom, lineStyle: { color: '#333333', width: 1 } },
    axisTick: { show: isBottom, customValues: xTickValues, length: 5, lineStyle: { color: '#333333', width: 1 } },
    axisLabel: {
      show: isBottom, customValues: xTickValues, margin: 6,
      formatter: v => v.toFixed(2), color: '#4D4D4D', fontSize: 15, fontFamily: FONT
    }
  });

  yAxes.push({
    type: 'value', gridIndex: k, min: Y_RANGE[0], max: Y_RANGE[1],
    splitLine: { show: false }, minorSplitLine: { show: false },
    axisLine: { show: isLeft, lineStyle: { color: '#333333', width: 1 } },
    axisTick: { show: isLeft, customValues: yTickValues, length: 5, lineStyle: { color: '#333333', width: 1 } },
    axisLabel: {
      show: isLeft, customValues: yTickValues, margin: 9,
      formatter: v => v.toFixed(2), color: '#4D4D4D', fontSize: 15, fontFamily: FONT
    }
  });

  // panel gridlines and the zero reference line, kept beneath the curves
  const gridLines = []
    .concat(xMinorValues.map(v => ({ xAxis: v, lineStyle: minorGrid })))
    .concat(yMinorValues.map(v => ({ yAxis: v, lineStyle: minorGrid })))
    .concat(xTickValues.map(v => ({ xAxis: v, lineStyle: majorGrid })))
    .concat(yTickValues.map(v => ({ yAxis: v, lineStyle: majorGrid })))
    .concat([{ yAxis: 0, lineStyle: { color: '#FF1F3A', width: 2, type: 'solid' } }]);

  series.push({
    type: 'line', xAxisIndex: k, yAxisIndex: k, data: [], z: 1, silent: true, animation: false,
    markLine: {
      z: 1, silent: true, animation: false, symbol: ['none', 'none'],
      label: { show: false }, emphasis: { disabled: true },
      data: gridLines
    }
  });

  // replicate curves
  panelCurves[k].forEach(curve => {
    series.push({
      type: 'line', xAxisIndex: k, yAxisIndex: k, z: 3,
      data: curve.map((v, i) => [scoreGrid[i], v]),
      symbol: 'none', showSymbol: false, silent: true, animation: false, clip: true,
      lineStyle: { color: '#6C6C6C', width: 1.6 },
      emphasis: { disabled: true }
    });
  });

  // facet strip
  graphics.push({
    type: 'rect', z: 100, silent: true,
    shape: { x: left, y: stripTop, width: PANEL_W, height: STRIP_H },
    style: { fill: '#D9D9D9', stroke: '#333333', lineWidth: 1 }
  });
  graphics.push({
    type: 'text', z: 101, silent: true,
    x: left + PANEL_W / 2, y: stripTop + STRIP_H / 2 + 0.5,
    style: {
      text: size + ' per Form', fill: '#1A1A1A', fontSize: 15, fontFamily: FONT,
      align: 'center', verticalAlign: 'middle'
    }
  });
});

const panelsRight = ORIGIN_X + (N_COLS - 1) * COL_STEP + PANEL_W;
const panelsBottom = ORIGIN_Y + (N_ROWS - 1) * ROW_STEP + STRIP_H + PANEL_H;

graphics.push({
  type: 'text', z: 101, silent: true,
  x: (ORIGIN_X + panelsRight) / 2, y: panelsBottom + 38,
  style: {
    text: 'Relative Composite Score', fill: '#000000', fontSize: 20.5, fontFamily: FONT,
    align: 'center', verticalAlign: 'middle'
  }
});
graphics.push({
  type: 'text', z: 101, silent: true,
  x: 19, y: (ORIGIN_Y + panelsBottom) / 2, rotation: Math.PI / 2,
  style: {
    text: 'Qualification Rate Difference (Reduced N vs. 10k per Form)', fill: '#000000',
    fontSize: 20.5, fontFamily: FONT, align: 'center', verticalAlign: 'middle'
  }
});

const chart = echarts.init(document.getElementById('chart'), null, { renderer: 'canvas' });
chart.setOption({
  backgroundColor: '#FFFFFF',
  animation: false,
  grid: grids,
  xAxis: xAxes,
  yAxis: yAxes,
  series: series,
  graphic: { elements: graphics }
});
</script>
</body>
</html>
